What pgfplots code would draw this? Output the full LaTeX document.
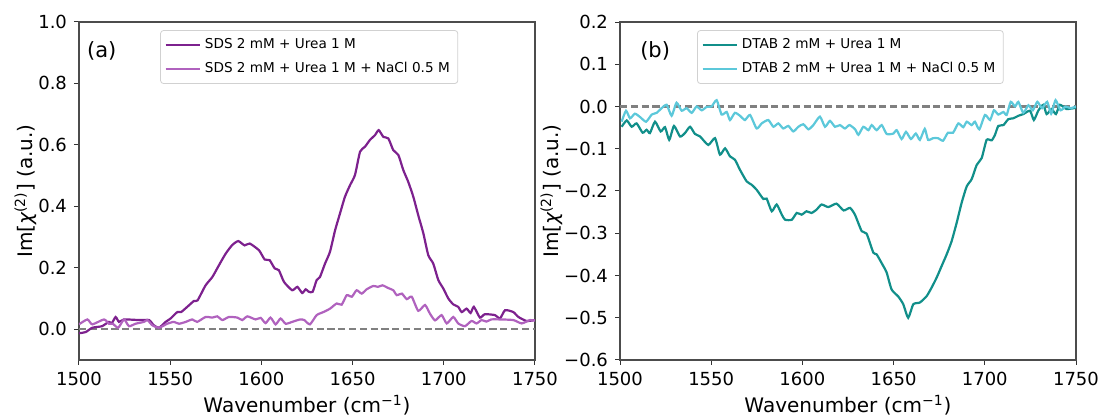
\documentclass[border=0pt]{standalone}
\usepackage{fontspec}
\setmainfont{DejaVu Sans}
\usepackage{pgfplots}
\pgfplotsset{compat=1.18}

\definecolor{sdsA}{RGB}{125,33,142}
\definecolor{sdsB}{RGB}{176,98,190}
\definecolor{dtabA}{RGB}{17,143,138}
\definecolor{dtabB}{RGB}{92,200,218}

\pgfplotsset{
  spec/.style={
    scale only axis,
    width=228pt, height=169pt,
    xmin=1500, xmax=1750,
    xtick={1500,1550,1600,1650,1700,1750},
    tick align=outside,
    xtick pos=bottom, ytick pos=left,
    major tick length=2.5pt,
    tick style={black!80, line width=0.5pt},
    axis line style={black!70, line width=0.6pt},
    ticklabel style={font=\fontsize{9}{10}\selectfont},
    /pgf/number format/assume math mode=true,
    xticklabel={\pgfmathprintnumber[fixed,1000 sep={}]{\tick}},
    label style={font=\fontsize{10}{11}\selectfont},
    xlabel={Wavenumber (cm\textsuperscript{−1})},
    ylabel={Im[{\itshape χ}\textsuperscript{(2)}] (a.u.)},
    xlabel style={yshift=2pt},
    ylabel style={yshift=-6pt},
    legend cell align=left,
    legend style={font=\fontsize{6.8}{8}\selectfont, draw=black!18, rounded corners=1.5pt,
      fill=white, inner sep=2pt, row sep=1.3pt, anchor=north west},
    legend image post style={line width=1.1pt},
    every axis plot/.append style={line width=1.1pt, smooth, tension=0.35},
  },
  zero/.style={black!50, line width=1.1pt, dash pattern=on 3.6pt off 1.8pt},
}

\begin{document}
\begin{tikzpicture}
% (a) SDS
\begin{axis}[spec, name=pa, at={(0,0)}, anchor=south west,
    ymin=-0.1, ymax=1.0,
    ytick={0,0.2,0.4,0.6,0.8,1.0},
    yticklabels={0.0,0.2,0.4,0.6,0.8,1.0},
    legend style={at={(0.178,0.976)}}]
\addplot[zero, forget plot, sharp plot] coordinates {(1500,0) (1750,0)};
\addplot[sdsA] coordinates {
(1500,-0.013) (1503.7,-0.009) (1507.3,0.005) (1512.6,0.01) (1516.4,0.024) (1518,0.02)
(1520.1,0.04) (1521.9,0.024) (1524.7,0.032) (1532.9,0.03) (1538.4,0.03) (1541,0.013)
(1543.9,0.005) (1547.5,0.024) (1550.2,0.035) (1553.9,0.056) (1556,0.056) (1560.3,0.078)
(1563,0.092) (1565,0.094) (1569.4,0.143) (1573.1,0.17) (1576.7,0.208) (1580.4,0.246)
(1584,0.274) (1587.3,0.287) (1590.8,0.273) (1593.6,0.279) (1598.7,0.257) (1601.8,0.227)
(1604.5,0.225) (1607.3,0.198) (1609.6,0.192) (1612.4,0.154) (1616.9,0.127) (1619.7,0.138)
(1622.4,0.118) (1624.3,0.13) (1626,0.122) (1628.1,0.122) (1630.3,0.16) (1632.1,0.17)
(1634.9,0.214) (1637.6,0.252) (1640.4,0.322) (1643.1,0.377) (1645.8,0.431) (1648.6,0.469)
(1651.3,0.502) (1654.1,0.578) (1656.8,0.594) (1659.5,0.616) (1662.3,0.632) (1664.3,0.648)
(1666.9,0.626) (1669.6,0.621) (1672.3,0.583) (1675.1,0.567) (1677.8,0.518) (1680.5,0.48)
(1683.3,0.431) (1686,0.371) (1688.8,0.312) (1691.5,0.241) (1694.2,0.214) (1697,0.16)
(1699.7,0.133) (1702.5,0.1) (1705.2,0.081) (1707.9,0.073) (1709.8,0.056) (1712.5,0.067)
(1714.7,0.053) (1716.5,0.073) (1719.8,0.038) (1722.5,0.049) (1728.1,0.046) (1730.8,0.035)
(1733.6,0.062) (1738.1,0.056) (1740.9,0.04) (1745.4,0.027) (1750,0.03)
};
\addlegendentry{SDS 2 mM + Urea 1 M}
\addplot[sdsB] coordinates {
(1500,0.016) (1504.6,0.032) (1507.3,0.016) (1513.7,0.032) (1516.4,0.018) (1518.5,0.018)
(1521.5,0.005) (1524.7,0.032) (1527.4,0.01) (1531,0.018) (1535.6,0.024) (1537.5,0.03)
(1540.2,0.013) (1543.9,0.005) (1548.4,0.018) (1552,0.024) (1554.8,0.018) (1558.5,0.024)
(1562.1,0.032) (1564.8,0.024) (1569.4,0.04) (1573.1,0.038) (1575.8,0.042) (1578.6,0.03)
(1582.2,0.04) (1586.8,0.038) (1589.5,0.03) (1592.3,0.042) (1596.8,0.032) (1599.6,0.037)
(1602.3,0.02) (1605,0.038) (1607.8,0.016) (1610.5,0.035) (1613.3,0.018) (1616.9,0.024)
(1621.2,0.032) (1623.5,0.03) (1626.6,0.016) (1630.3,0.046) (1634,0.056) (1637.6,0.067)
(1641.3,0.084) (1644,0.08) (1646.8,0.111) (1649.6,0.106) (1652.2,0.127) (1655,0.116)
(1657.7,0.13) (1661.4,0.141) (1663.9,0.138) (1666.4,0.143) (1669.6,0.134) (1672.3,0.127)
(1674.2,0.111) (1677,0.116) (1679.7,0.098) (1682.4,0.106) (1686,0.06) (1689.7,0.079)
(1692.4,0.051) (1695.2,0.029) (1698.8,0.046) (1701.6,0.019) (1705.2,0.04) (1707.9,0.019)
(1711.6,0.01) (1715.2,0.027) (1718,0.019) (1720.7,0.03) (1723.4,0.025) (1726,0.032)
(1730.8,0.032) (1738.1,0.03) (1742.7,0.019) (1747.2,0.03) (1750,0.028)
};
\addlegendentry{SDS 2 mM + Urea 1 M + NaCl 0.5 M}
\node[font=\fontsize{10.5}{12}\selectfont] at (rel axis cs:0.05,0.915) {(a)};
\end{axis}

% (b) DTAB
\begin{axis}[spec, name=pb, at={(270.5pt,0)}, anchor=south west,
    ymin=-0.6, ymax=0.2,
    ytick={-0.6,-0.5,-0.4,-0.3,-0.2,-0.1,0,0.1,0.2},
    yticklabels={−0.6,−0.5,−0.4,−0.3,−0.2,−0.1,0.0,0.1,0.2},
    legend style={at={(0.169,0.976)}}]
\addplot[zero, forget plot, sharp plot] coordinates {(1500,0) (1750,0)};
\addplot[dtabA] coordinates {
(1500.9,-0.048) (1503.7,-0.033) (1506.4,-0.048) (1509.1,-0.04) (1512.4,-0.062) (1514.6,-0.055)
(1516.4,-0.063) (1519.2,-0.036) (1522.3,-0.059) (1524.7,-0.049) (1527,-0.079) (1529.6,-0.046)
(1532.9,-0.071) (1535.6,-0.063) (1538.4,-0.048) (1541.1,-0.065) (1543.9,-0.071) (1548.4,-0.091)
(1552.1,-0.075) (1554.8,-0.114) (1557.6,-0.099) (1560.3,-0.118) (1563,-0.126) (1565.8,-0.15)
(1569.4,-0.177) (1572.1,-0.185) (1574.9,-0.197) (1578.6,-0.219) (1580.4,-0.218) (1583.2,-0.248)
(1585.9,-0.232) (1588.7,-0.256) (1590.5,-0.268) (1594.2,-0.268) (1596.9,-0.252) (1599.6,-0.256)
(1602.3,-0.248) (1605,-0.252) (1607.8,-0.244) (1610.5,-0.232) (1614.2,-0.238) (1618.7,-0.23)
(1622.6,-0.246) (1626.1,-0.24) (1628.8,-0.256) (1632.5,-0.295) (1635.2,-0.301) (1638.9,-0.346)
(1640.7,-0.35) (1644.4,-0.378) (1646.2,-0.393) (1648.9,-0.433) (1652.6,-0.45) (1655.3,-0.468)
(1658,-0.5) (1660.8,-0.468) (1664.4,-0.464) (1668.1,-0.449) (1670.8,-0.429) (1673.6,-0.405)
(1676.3,-0.378) (1679.1,-0.35) (1681.8,-0.319) (1684.6,-0.275) (1687.3,-0.228) (1690.1,-0.189)
(1692.8,-0.172) (1695.6,-0.138) (1698.3,-0.122) (1701,-0.079) (1703.8,-0.08) (1705.6,-0.067)
(1707.4,-0.046) (1710.2,-0.044) (1712.9,-0.03) (1715.6,-0.028) (1718.4,-0.022) (1721.1,-0.018)
(1724.8,-0.01) (1726.9,-0.032) (1729.3,-0.01) (1732.1,0.004) (1733.9,-0.018) (1736.6,-0.006)
(1739,-0.018) (1741.2,0.004) (1744.8,-0.006) (1750,-0.003)
};
\addlegendentry{DTAB 2 mM + Urea 1 M}
\addplot[dtabB] coordinates {
(1500.9,-0.036) (1503.3,-0.01) (1505.5,-0.028) (1508.2,-0.017) (1511,-0.025) (1514.3,-0.036)
(1517.4,-0.019) (1520.1,-0.015) (1522.8,-0.004) (1525.6,0.004) (1528.3,-0.022) (1531,0.009)
(1533.8,-0.01) (1536.5,-0.004) (1539.3,-0.015) (1542,0) (1544.8,-0.009) (1547.5,-0.001)
(1550.2,0) (1553,0.015) (1555.7,-0.019) (1558.5,-0.013) (1560.3,-0.032) (1563,-0.015)
(1565.8,-0.022) (1568.5,-0.032) (1571.3,-0.02) (1574.9,-0.052) (1577.7,-0.04) (1581.3,-0.032)
(1584.1,-0.048) (1586.8,-0.04) (1589.5,-0.052) (1592.3,-0.046) (1595,-0.059) (1597.8,-0.048)
(1600.5,-0.042) (1603.3,-0.054) (1606,-0.044) (1609.6,-0.024) (1612.4,-0.048) (1615.1,-0.034)
(1617.9,-0.048) (1620.6,-0.044) (1623.3,-0.052) (1625.8,-0.044) (1628.9,-0.054) (1630.7,-0.067)
(1633.4,-0.048) (1636.2,-0.056) (1638,-0.044) (1640.7,-0.056) (1643.5,-0.044) (1646.2,-0.065)
(1649.9,-0.064) (1651.7,-0.056) (1654.4,-0.077) (1656.8,-0.06) (1659.5,-0.077) (1662.2,-0.064)
(1664.4,-0.079) (1667.1,-0.053) (1668.9,-0.079) (1671.6,-0.075) (1674.4,-0.075) (1677.1,-0.081)
(1679.8,-0.062) (1682.6,-0.062) (1685.5,-0.04) (1688.2,-0.049) (1690.1,-0.036) (1692.8,-0.044)
(1694.6,-0.036) (1697,-0.054) (1700.1,-0.02) (1702.9,-0.032) (1705,-0.009) (1707.4,-0.019)
(1710.2,-0.013) (1712,-0.02) (1714.2,0.011) (1716.6,0) (1718.4,0.011) (1721.1,-0.015)
(1723.9,0.003) (1726.3,-0.009) (1728.8,0.011) (1731.4,-0.004) (1734.2,0.011) (1736.4,-0.017)
(1738.8,0.015) (1741.5,-0.009) (1744.3,0) (1747,-0.004) (1750,0)
};
\addlegendentry{DTAB 2 mM + Urea 1 M + NaCl 0.5 M}
\node[font=\fontsize{10.5}{12}\selectfont] at (rel axis cs:0.077,0.915) {(b)};
\end{axis}

\pgfresetboundingbox
\path[use as bounding box] (-39.5pt,-28pt) rectangle (510pt,180pt);
\end{tikzpicture}
\end{document}
